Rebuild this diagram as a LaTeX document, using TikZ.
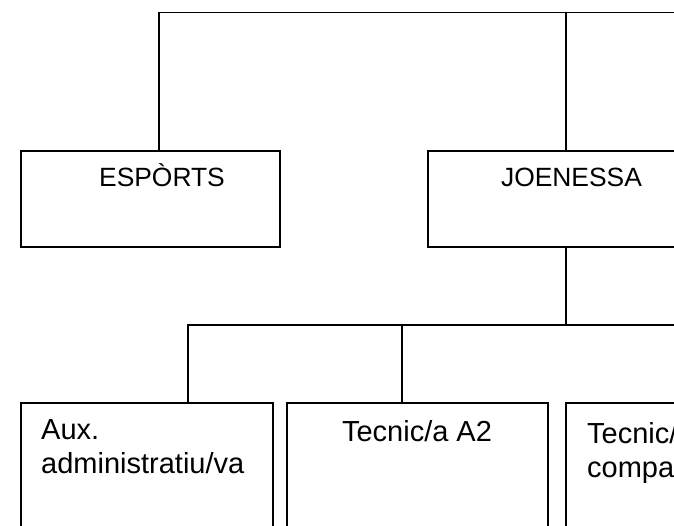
\documentclass[tikz,border=0pt]{standalone}
\usepackage{fontspec}
\setmainfont{Liberation Sans}
\begin{document}
\begin{tikzpicture}[x=1pt,y=-1pt,
  box/.style={draw=black,line width=2.2pt,rectangle,inner sep=0pt,outer sep=0pt},
  conn/.style={draw=black,line width=1.8pt},
  lbl/.style={inner sep=0pt,font=\fontsize{26.4pt}{31pt}\selectfont},
  lblb/.style={inner sep=0pt,font=\fontsize{29pt}{34pt}\selectfont}]
\useasboundingbox (0,0) rectangle (674,525);
\clip (0,0) rectangle (674,525);
% boxes
\node[box,minimum width=259pt,minimum height=96pt] (esp) at (150.5,199) {};
\node[box,minimum width=259pt,minimum height=96pt] (joe) at (557.5,199) {};
\node[box,minimum width=252pt,minimum height=150pt] (aux) at (147,478) {};
\node[box,minimum width=261pt,minimum height=150pt] (tec) at (417.5,478) {};
\node[box,minimum width=261pt,minimum height=150pt] (tcp) at (696.5,478) {};
% labels
\node[lbl,anchor=base] (tesp) at (162,186) {ESPÒRTS};
\node[lbl,anchor=base] (tjoe) at (571.5,186) {JOENESSA};
\node[lblb,anchor=base west] (taux1) at (41,439) {Aux.};
\node[lblb,anchor=base west] (taux2) at (41,473) {administratiu/va};
\node[lblb,anchor=base] (ttec) at (417,441) {Tecnic/a A2};
\node[lblb,anchor=base west] (ttcp1) at (587,443) {Tecnic/a};
\node[lblb,anchor=base west] (ttcp2) at (587,477) {compa};
% connectors
\coordinate (topR) at (690,12.5);
\coordinate (hub) at (566,325);
\coordinate (midR) at (690,325);
\draw[conn] ([xshift=138pt]esp.north west) |- (topR);
\draw[conn] ([xshift=138pt]joe.north west) -- ([xshift=138pt]joe.north west |- topR);
\draw[conn] ([xshift=138pt]joe.south west) -- (hub);
\draw[conn] ([xshift=167pt]aux.north west) |- (midR);
\draw[conn] ([xshift=115pt]tec.north west) -- ([xshift=115pt]tec.north west |- hub);
\end{tikzpicture}
\end{document}
